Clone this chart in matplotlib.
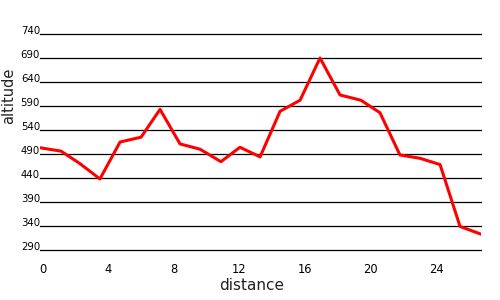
import matplotlib
matplotlib.use('Agg')
import matplotlib.pyplot as plt
from matplotlib.transforms import ScaledTranslation

# elevation profile
distance = [0.0, 1.28, 2.44, 3.66, 4.89, 6.17, 7.33, 8.55, 9.77, 11.05, 12.21, 13.44,
            14.66, 15.88, 17.10, 18.32, 19.60, 20.76, 21.98, 23.21, 24.43, 25.65, 26.93]
altitude = [503, 496, 470, 438, 515, 525, 583, 511, 500, 474, 504, 484,
            579, 602, 690, 613, 602, 576, 488, 481, 468, 339, 323]

y_ticks = [290, 340, 390, 440, 490, 540, 590, 640, 690, 740]
x_ticks = [0, 4, 8, 12, 16, 20, 24]

fig = plt.figure(figsize=(5, 3), dpi=100)
ax = fig.add_axes([0.08, 1 - 250 / 300, 0.882, (250 - 34) / 300])

ax.plot(distance, altitude, color='#ff0000', linewidth=2.2, zorder=3)

ax.set_xlim(0, 26.93)
ax.set_ylim(290, 740)
ax.set_yticks(y_ticks)
ax.set_xticks(x_ticks)
ax.tick_params(axis='y', length=0, pad=0)
ax.tick_params(axis='x', length=0, pad=9.5)

ax.set_xticklabels([str(v) for v in x_ticks], fontsize=8.3)
ax.set_yticklabels([str(v) for v in y_ticks], fontsize=7.3)
for lbl in ax.get_yticklabels():
    lbl.set_va('baseline')
# x labels sit a few pixels right of their ticks in the reference
shift = ScaledTranslation(3 / 100, 0, fig.dpi_scale_trans)
for lbl in ax.get_xticklabels():
    lbl.set_transform(lbl.get_transform() + shift)

ax.grid(axis='y', color='black', linewidth=0.9)
ax.grid(axis='x', visible=False)
for gl in ax.get_ygridlines():
    gl.set_clip_on(False)

for sp in ax.spines.values():
    sp.set_visible(False)

fig.text(252 / 500, 1 - 286 / 300, 'distance', fontsize=11, ha='center', va='center', color='#222222')
fig.text(8.7 / 500, 1 - 96 / 300, 'altitude', fontsize=10.5, ha='center', va='center',
         rotation=90, color='#222222')

fig.savefig('out.png', dpi=100, facecolor='white')
